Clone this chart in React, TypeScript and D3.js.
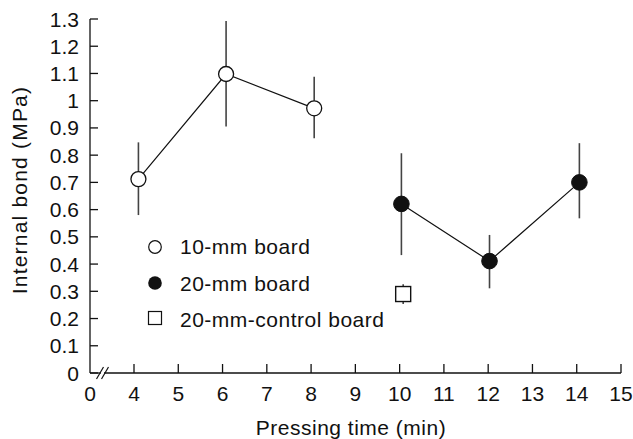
import React from "react";
import * as d3 from "d3";

const yTicks = [0, 0.1, 0.2, 0.3, 0.4, 0.5, 0.6, 0.7, 0.8, 0.9, 1, 1.1, 1.2, 1.3];
const xTicks = [4, 5, 6, 7, 8, 9, 10, 11, 12, 13, 14, 15];

const board10X = [4.1, 6.08, 8.07];
const board10Y = [0.712, 1.098, 0.972];
const board10Lo = [0.58, 0.905, 0.862];
const board10Hi = [0.847, 1.293, 1.088];

const board20X = [10.04, 12.03, 14.06];
const board20Y = [0.621, 0.411, 0.7];
const board20Lo = [0.433, 0.311, 0.568];
const board20Hi = [0.807, 0.507, 0.844];

const controlX = [10.08];
const controlY = [0.29];
const controlLo = [0.253];
const controlHi = [0.326];

const legendLabels = ["10-mm board", "20-mm board", "20-mm-control board"];

const W = 633;
const H = 439;
const axisX = 90;
const axisY = 373;
const font = "'Liberation Sans', Arial, Helvetica, sans-serif";
const ink = "#111";

export default function App() {
  const x = d3.scaleLinear().domain([4, 15]).range([134, 621]);
  const y = d3.scaleLinear().domain([0, 1.3]).range([axisY, 19]);
  const line = d3
    .line<[number, number]>()
    .x((d) => x(d[0]))
    .y((d) => y(d[1]));
  const pts10 = board10X.map((v, i) => [v, board10Y[i]] as [number, number]);
  const pts20 = board20X.map((v, i) => [v, board20Y[i]] as [number, number]);

  const errBars = (xs: number[], lo: number[], hi: number[], key: string) =>
    xs.map((v, i) => (
      <line
        key={key + i}
        x1={x(v)}
        x2={x(v)}
        y1={y(lo[i])}
        y2={y(hi[i])}
        stroke="#444"
        strokeWidth={1.6}
      />
    ));

  const breakX = [100, 105];

  return (
    <svg
      width={W}
      height={H}
      style={{ position: "absolute", left: 0, top: 0, background: "#fff" }}
      fontFamily={font}
    >
      <rect width={W} height={H} fill="#fff" />
      <line x1={axisX} x2={axisX} y1={y(1.3)} y2={axisY} stroke={ink} strokeWidth={1.3} />
      {yTicks.map((t) => (
        <g key={"yt" + t}>
          <line x1={axisX} x2={axisX + 8} y1={y(t)} y2={y(t)} stroke={ink} strokeWidth={1.3} />
          <text x={79} y={y(t)} dy="0.36em" textAnchor="end" fontSize={21} fill={ink}>
            {String(t)}
          </text>
        </g>
      ))}
      <line x1={axisX} x2={101} y1={axisY} y2={axisY} stroke={ink} strokeWidth={1.3} />
      <line x1={104} x2={x(15)} y1={axisY} y2={axisY} stroke={ink} strokeWidth={1.3} />
      {breakX.map((bx) => (
        <line
          key={"br" + bx}
          x1={bx - 3.5}
          x2={bx + 3.5}
          y1={axisY + 6}
          y2={axisY - 6}
          stroke={ink}
          strokeWidth={1.2}
        />
      ))}
      {xTicks.map((t) => (
        <g key={"xt" + t}>
          <line x1={x(t)} x2={x(t)} y1={axisY} y2={axisY - 9} stroke={ink} strokeWidth={1.3} />
          <text x={x(t)} y={401} textAnchor="middle" fontSize={21} fill={ink}>
            {t}
          </text>
        </g>
      ))}
      <text x={axisX} y={401} textAnchor="middle" fontSize={21} fill={ink}>
        0
      </text>
      <text x={351} y={435} textAnchor="middle" fontSize={21} letterSpacing={0.5} fill={ink}>
        Pressing time (min)
      </text>
      <text
        transform={`translate(27,190) rotate(-90)`}
        textAnchor="middle"
        fontSize={21}
        letterSpacing={1.2}
        fill={ink}
      >
        Internal bond (MPa)
      </text>
      {errBars(board10X, board10Lo, board10Hi, "e10")}
      {errBars(board20X, board20Lo, board20Hi, "e20")}
      {errBars(controlX, controlLo, controlHi, "ec")}
      <path d={line(pts10) || ""} fill="none" stroke={ink} strokeWidth={1.2} />
      <path d={line(pts20) || ""} fill="none" stroke={ink} strokeWidth={1.2} />
      {pts10.map((p, i) => (
        <circle key={"c10" + i} cx={x(p[0])} cy={y(p[1])} r={7.5} fill="#fff" stroke={ink} strokeWidth={1.3} />
      ))}
      {pts20.map((p, i) => (
        <circle key={"c20" + i} cx={x(p[0])} cy={y(p[1])} r={7.8} fill="#111" stroke="#111" strokeWidth={1} />
      ))}
      {controlX.map((v, i) => (
        <rect
          key={"sq" + i}
          x={x(v) - 7.5}
          y={y(controlY[i]) - 7.5}
          width={15}
          height={15}
          fill="#fff"
          stroke={ink}
          strokeWidth={1.4}
        />
      ))}
      <circle cx={155} cy={247} r={6.3} fill="#fff" stroke={ink} strokeWidth={1.2} />
      <circle cx={155} cy={283} r={6.8} fill="#111" />
      <rect x={148.5} y={311.5} width={13} height={13} fill="#fff" stroke={ink} strokeWidth={1.2} />
      {legendLabels.map((lab, i) => (
        <text key={lab} x={180} y={254 + i * 36.5} fontSize={21} letterSpacing={0.5} fill={ink}>
          {lab}
        </text>
      ))}
    </svg>
  );
}
